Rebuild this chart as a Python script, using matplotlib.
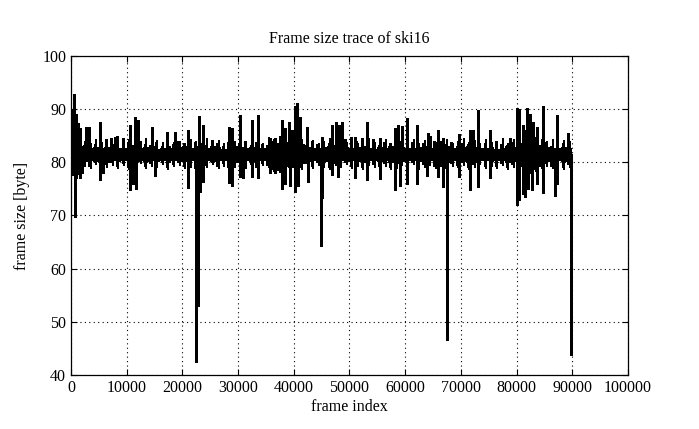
import numpy as np
from matplotlib import pyplot as plt

plt.rcParams['font.family'] = ['Liberation Serif', 'DejaVu Serif']

# solid core of the trace, one value per 1000 frames (0 .. 89000)
band_hi = [85.5, 84.6, 83.0, 82.7, 82.9, 82.6, 82.8, 83.1, 82.6, 82.7,
           82.9, 83.2, 82.6, 82.8, 83.0, 82.5, 82.7, 83.0, 82.6, 82.8,
           83.0, 82.7, 83.1, 82.9, 82.6, 83.0, 82.8, 82.5, 82.7, 83.0,
           82.8, 82.6, 82.9, 83.2, 82.7, 83.0, 83.4, 83.6, 83.9, 84.1,
           83.8, 83.4, 82.9, 82.7, 82.6, 82.8, 83.0, 82.5, 82.7, 82.9,
           82.6, 82.8, 83.0, 82.7, 82.5, 82.9, 82.7, 83.0, 83.1, 82.9,
           82.7, 82.6, 82.8, 83.0, 82.7, 82.5, 82.8, 83.0, 82.6, 82.7,
           82.9, 83.0, 82.8, 82.6, 82.7, 82.9, 82.5, 82.7, 83.0, 82.8,
           83.6, 84.2, 84.4, 83.9, 83.2, 82.9, 82.7, 82.6, 82.9, 82.7]
band_lo = [77.5, 78.6, 80.0, 80.2, 80.0, 80.3, 79.9, 80.3, 80.1, 80.2,
           80.0, 79.7, 80.3, 80.1, 80.3, 80.0, 80.2, 79.9, 80.3, 80.1,
           80.0, 80.2, 79.6, 79.9, 80.3, 80.0, 80.2, 80.3, 80.1, 79.9,
           80.1, 80.3, 80.0, 79.8, 80.2, 80.0, 79.6, 79.4, 79.2, 79.0,
           79.2, 79.6, 80.0, 80.2, 80.3, 80.1, 80.0, 80.3, 80.2, 80.1,
           80.3, 80.1, 79.9, 80.2, 80.3, 80.0, 80.2, 79.9, 79.7, 80.0,
           80.2, 80.3, 80.1, 79.8, 80.2, 80.3, 80.1, 79.9, 80.3, 80.2,
           80.0, 79.8, 80.1, 80.3, 80.2, 80.0, 80.3, 80.2, 79.9, 80.1,
           79.2, 78.6, 78.4, 78.9, 79.6, 80.0, 80.2, 80.3, 80.0, 80.2]

# thin ripple around the core, one stroke per 1000 frames at +500
ripple_hi = [86.0, 84.2, 84.0, 83.6, 84.4, 83.8, 84.1, 83.5, 84.6, 83.9,
             84.3, 83.7, 84.0, 84.5, 83.6, 84.2, 83.8, 84.7, 83.9, 84.1,
             83.6, 84.4, 84.0, 83.7, 84.5, 83.9, 84.2, 83.6, 84.3, 84.0,
             84.6, 83.8, 84.1, 84.4, 83.7, 84.8, 84.3, 85.0, 84.6, 85.2,
             84.9, 84.4, 83.8, 84.2, 83.6, 84.0, 84.5, 83.7, 84.1, 83.9,
             84.4, 83.6, 84.2, 84.6, 83.8, 84.0, 84.3, 83.7, 84.5, 84.1,
             83.9, 84.4, 83.6, 84.2, 84.7, 83.8, 84.0, 84.3, 83.7, 84.1,
             84.5, 83.9, 84.2, 83.6, 84.4, 83.8, 84.0, 84.6, 83.7, 84.3,
             85.0, 85.4, 85.1, 84.8, 84.4, 84.0, 84.3, 83.8, 84.2, 84.0]
ripple_lo = [78.0, 77.6, 79.2, 78.8, 79.5, 78.6, 79.0, 79.4, 78.7, 79.3,
             78.5, 79.1, 79.6, 78.8, 79.2, 78.9, 79.5, 78.6, 79.1, 79.4,
             78.8, 79.0, 78.4, 79.3, 78.9, 79.5, 78.7, 79.2, 78.6, 79.0,
             79.4, 78.8, 79.1, 78.5, 79.3, 78.9, 78.2, 78.0, 77.8, 78.1,
             78.3, 78.6, 79.2, 78.7, 79.4, 79.0, 78.6, 79.3, 78.9, 79.5,
             78.8, 79.1, 78.5, 79.4, 79.0, 78.7, 79.2, 78.6, 78.8, 79.3,
             78.9, 79.5, 78.6, 79.0, 79.3, 78.8, 79.1, 78.4, 79.2, 78.9,
             79.4, 78.6, 79.0, 79.5, 78.7, 79.1, 78.8, 79.3, 78.5, 79.0,
             78.0, 77.6, 77.8, 78.2, 78.7, 79.2, 78.8, 79.3, 78.6, 79.0]

# spikes above the band: frame index, frame size
up_frames = [360, 540, 900, 1260, 1620, 2700, 3230, 5200, 7900, 10600,
             11500, 12000, 14500, 17200, 18700, 21000, 23000, 23700, 28400, 28900,
             30300, 32500, 33600, 35700, 36600, 37900, 38400, 39100, 39700, 40200,
             40600, 41100, 42400, 45000, 46800, 47600, 48100, 48600, 51000, 53100,
             55500, 58200, 58700, 59400, 60300, 62100, 64100, 64400, 65900, 66800,
             69600, 71600, 72200, 73100, 75200, 78800, 80100, 80400, 81100, 81500,
             81900, 82400, 82900, 83600, 84700, 87200]
up_sizes = [90.0, 92.8, 89.0, 87.4, 86.5, 86.7, 86.7, 87.6, 84.8, 87.0,
            88.5, 88.0, 86.7, 85.7, 85.7, 86.1, 88.7, 87.0, 86.7, 86.5,
            88.9, 88.0, 88.9, 84.5, 84.5, 88.0, 86.5, 87.5, 86.0, 90.5,
            91.2, 88.5, 86.6, 84.8, 87.0, 87.6, 87.0, 87.6, 84.8, 87.6,
            84.5, 86.5, 87.0, 86.8, 88.3, 87.0, 85.5, 85.0, 86.1, 84.5,
            85.4, 86.0, 86.0, 89.8, 86.0, 84.5, 90.2, 90.0, 87.0, 86.0,
            90.2, 89.0, 87.5, 86.7, 90.6, 88.9]

# spikes below the band
down_frames = [720, 900, 1620, 2000, 5200, 5700, 10600, 11100, 11700, 15000,
               21000, 22400, 22600, 22800, 23200, 23700, 28400, 28900, 30300, 30900,
               32500, 33600, 35700, 36600, 37900, 38500, 39300, 40200, 40700, 42500,
               44900, 45000, 46800, 47900, 51000, 53100, 55500, 58200, 59100, 60300,
               62100, 63900, 65900, 66800, 67500, 69600, 71600, 73100, 75200, 80100,
               80400, 81100, 81500, 82000, 82700, 83700, 84700, 86900, 87200, 89800]
down_sizes = [69.7, 77.0, 77.0, 78.0, 76.7, 78.0, 74.8, 76.0, 75.0, 77.5,
              75.2, 42.5, 73.3, 53.0, 74.5, 76.3, 76.1, 75.5, 77.3, 77.0,
              77.3, 77.0, 78.0, 78.0, 75.0, 76.0, 75.5, 74.4, 75.5, 76.3,
              64.3, 73.3, 77.7, 77.3, 77.0, 76.7, 76.8, 74.8, 75.5, 76.0,
              76.0, 77.5, 77.3, 75.4, 46.6, 77.3, 74.8, 75.4, 77.0, 72.0,
              73.0, 74.0, 73.5, 75.0, 74.8, 76.0, 74.2, 73.7, 76.0, 43.7]

band_x = np.arange(len(band_hi)) * 1000

fig = plt.figure(figsize=(6.99, 4.29), dpi=100)
ax = fig.add_axes([0.1016, 0.1259, 0.7968, 0.7436])

ax.fill_between(np.append(band_x, 90000), np.append(band_lo, band_lo[-1]),
                np.append(band_hi, band_hi[-1]), step='post', color='black', lw=0)
ax.vlines(band_x + 500, ripple_lo, ripple_hi, color='black', lw=1.1, antialiased=False)
ax.vlines(band_x + 250, np.array(ripple_lo) + 0.6, np.array(ripple_hi[::-1]) - 0.5,
          color='black', lw=1.0, antialiased=False)
ax.vlines(up_frames, 81.5, up_sizes, color='black', lw=1.8, antialiased=False)
ax.vlines(down_frames, down_sizes, 81.5, color='black', lw=1.8, antialiased=False)

ax.set_xlim(0, 100000)
ax.set_ylim(40, 100)
ax.set_xticks(np.arange(0, 100001, 10000))
ax.set_yticks(np.arange(40, 101, 10))
ax.grid(True, color='black', linestyle=(0, (1, 3)), linewidth=0.8)
ax.tick_params(direction='in', top=True, right=True, length=4, labelsize=11.5)
for s in ax.spines.values():
    s.set_linewidth(0.9)

ax.set_title("Frame size trace of ski16", fontsize=11.5, pad=9)
ax.set_xlabel("frame index", fontsize=11.5, labelpad=2)
ax.set_ylabel("frame size [byte]", fontsize=11.5, labelpad=9)

plt.savefig("out.png", dpi=100)
